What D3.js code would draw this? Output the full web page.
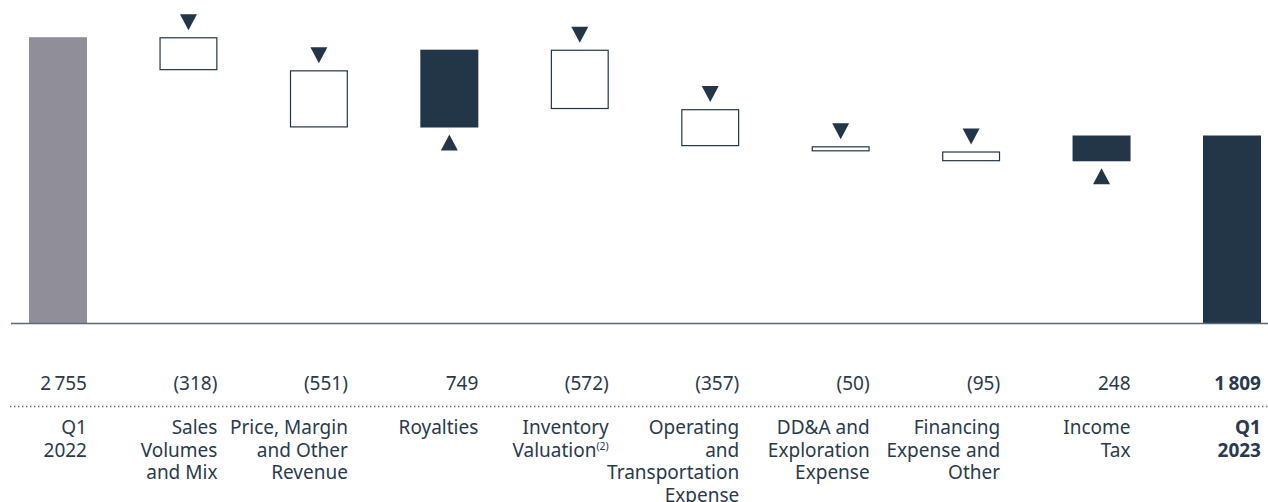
<!DOCTYPE html>
<html>
<head>
<meta charset="utf-8">
<script src="https://cdn.jsdelivr.net/npm/d3@7"></script>
<style>
  html, body { margin: 0; padding: 0; background: #ffffff; }
  svg { display: block; }
  text { font-family: "Noto Sans", "Open Sans", sans-serif; }
</style>
</head>
<body>
<svg id="chart" width="1268" height="502"></svg>
<script>
// ---- data ----
const categories = ["Q1 2022", "Sales Volumes and Mix", "Price, Margin and Other Revenue", "Royalties",
  "Inventory Valuation", "Operating and Transportation Expense", "DD&A and Exploration Expense",
  "Financing Expense and Other", "Income Tax", "Q1 2023"];
const labelLines = [
  ["Q1", "2022"],
  ["Sales", "Volumes", "and Mix"],
  ["Price, Margin", "and Other", "Revenue"],
  ["Royalties"],
  ["Inventory", "Valuation"],
  ["Operating", "and", "Transportation", "Expense"],
  ["DD&A and", "Exploration", "Expense"],
  ["Financing", "Expense and", "Other"],
  ["Income", "Tax"],
  ["Q1", "2023"]
];
const values = [2755, -318, -551, 749, -572, -357, -50, -95, 248, 1809];
const valueLabels = ["2\u2009755", "(318)", "(551)", "749", "(572)", "(357)", "(50)", "(95)", "248", "1\u2009809"];
const kinds = ["start", "delta", "delta", "delta", "delta", "delta", "delta", "delta", "delta", "total"];
const footnotes = [null, null, null, null, "(2)", null, null, null, null, null];

// ---- colours ----
const navy = "#233647";
const grey = "#908f99";
const axisCol = "#5b6876";
const textCol = "#2a3a4b";

const svg = d3.select("#chart");

const x = d3.scaleBand().domain(categories).range([29, 1261]).paddingInner(0.5553).paddingOuter(0);
const y = d3.scaleLinear().domain([0, 2755]).range([323.5, 37.2]);

// compute waterfall segments
let run = 0;
const segs = categories.map((c, i) => {
  let y0, y1;
  if (kinds[i] === "start" || kinds[i] === "total") {
    y0 = 0; y1 = values[i]; run = values[i];
  } else {
    y0 = run; y1 = run + values[i]; run = y1;
  }
  return { cat: c, i, v: values[i], kind: kinds[i], lo: Math.min(y0, y1), hi: Math.max(y0, y1) };
});

const hollow = d => d.kind === "delta" && d.v < 0;

// bars
svg.append("g").selectAll("rect").data(segs).join("rect")
  .attr("x", d => x(d.cat) + (hollow(d) ? 0.6 : 0))
  .attr("y", d => y(d.hi) + (hollow(d) ? 0.6 : 0))
  .attr("width", d => x.bandwidth() - (hollow(d) ? 1.2 : 0))
  .attr("height", d => Math.max(0, y(d.lo) - y(d.hi) - (hollow(d) ? 1.2 : 0)))
  .attr("fill", d => d.kind === "start" ? grey : (hollow(d) ? "#ffffff" : navy))
  .attr("stroke", d => hollow(d) ? navy : "none")
  .attr("stroke-width", 1.2);

// triangles
const triW = 17, triH = 16, gap = 7;
svg.append("g").selectAll("path").data(segs.filter(d => d.kind === "delta")).join("path")
  .attr("d", d => {
    const cx = x(d.cat) + x.bandwidth() / 2;
    if (d.v < 0) {
      const tip = y(d.hi) - gap;
      return `M${cx - triW / 2},${tip - triH}L${cx + triW / 2},${tip - triH}L${cx},${tip}Z`;
    } else {
      const tip = y(d.lo) + gap;
      return `M${cx - triW / 2},${tip + triH}L${cx + triW / 2},${tip + triH}L${cx},${tip}Z`;
    }
  })
  .attr("fill", navy);

// baseline
svg.append("line")
  .attr("x1", 11).attr("x2", 1268)
  .attr("y1", y(0)).attr("y2", y(0))
  .attr("stroke", axisCol).attr("stroke-width", 1.6);

// dotted separator
svg.append("line")
  .attr("x1", 10).attr("x2", 1268)
  .attr("y1", 406.5).attr("y2", 406.5)
  .attr("stroke", axisCol).attr("stroke-width", 1.4)
  .attr("stroke-dasharray", "1.4 2.6");

const fs = 19;

// value labels
svg.append("g").selectAll("text").data(segs).join("text")
  .attr("x", d => x(d.cat) + x.bandwidth())
  .attr("y", 390)
  .attr("text-anchor", "end")
  .attr("font-size", fs)
  .attr("font-weight", d => d.kind === "total" ? 700 : 400)
  .attr("fill", textCol)
  .text(d => valueLabels[d.i]);

// category labels
const lab = svg.append("g").selectAll("text").data(segs).join("text")
  .attr("x", d => x(d.cat) + x.bandwidth())
  .attr("y", 434)
  .attr("text-anchor", "end")
  .attr("font-size", fs)
  .attr("font-weight", d => d.kind === "total" ? 700 : 400)
  .attr("fill", textCol);

lab.each(function(d) {
  const t = d3.select(this);
  const lines = labelLines[d.i];
  lines.forEach((ln, k) => {
    t.append("tspan")
      .attr("x", x(d.cat) + x.bandwidth())
      .attr("dy", k === 0 ? 0 : 22.5)
      .text(ln);
    if (k === lines.length - 1 && footnotes[d.i]) {
      t.append("tspan")
        .attr("font-size", 10.5)
        .attr("dy", -7)
        .text(footnotes[d.i]);
    }
  });
});
</script>
</body>
</html>
